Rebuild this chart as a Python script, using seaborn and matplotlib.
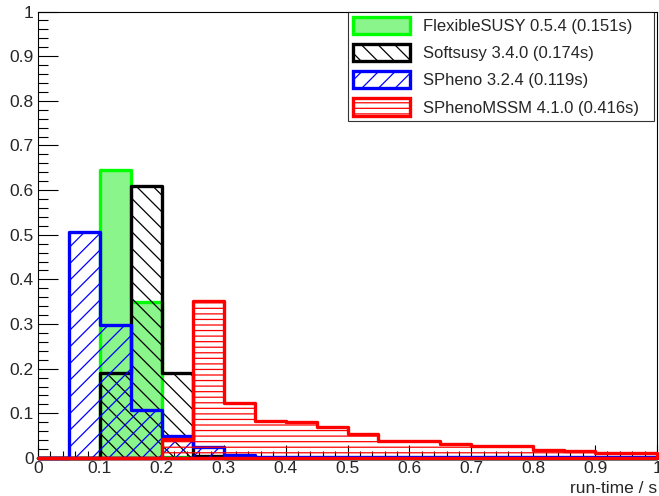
import numpy as np
import matplotlib
matplotlib.use("Agg")
import matplotlib.pyplot as plt
import seaborn as sns
from matplotlib.patches import Patch
from matplotlib.ticker import MultipleLocator, FuncFormatter

sns.set_style("white")
plt.rcParams['font.family'] = ['Liberation Sans', 'DejaVu Sans']
plt.rcParams['hatch.linewidth'] = 0.9

# bin edges (run-time / s)
edges = [round(0.05 * i, 2) for i in range(21)]
centers = [round(0.05 * i + 0.025, 3) for i in range(20)]

labels = ["FlexibleSUSY 0.5.4 (0.151s)", "Softsusy 3.4.0 (0.174s)",
          "SPheno 3.2.4 (0.119s)", "SPhenoMSSM 4.1.0 (0.416s)"]

flexiblesusy = [0, 0, 0.645, 0.350, 0.003, 0.002, 0.001, 0.001, 0, 0,
                0, 0, 0, 0, 0, 0, 0, 0, 0, 0]
softsusy = [0, 0, 0.190, 0.610, 0.190, 0.004, 0.001, 0.001, 0, 0,
            0, 0, 0, 0, 0, 0, 0, 0, 0, 0]
spheno = [0, 0.506, 0.297, 0.108, 0.050, 0.025, 0.006, 0.002, 0.002, 0.002,
          0.002, 0.002, 0.002, 0.002, 0.002, 0.002, 0.002, 0.002, 0.002, 0.002]
sphenomssm = [0, 0, 0, 0, 0.043, 0.351, 0.124, 0.082, 0.080, 0.070,
              0.054, 0.039, 0.038, 0.032, 0.027, 0.027, 0.017, 0.015, 0.012, 0.012]

series = [flexiblesusy, softsusy, spheno, sphenomssm]
line_colors = ["#00ff00", "#000000", "#0000ff", "#ff0000"]
face_colors = ["#8af58a", "none", "none", "none"]
hatches = [None, "\\\\", "//", "---"]

fig = plt.figure(figsize=(6.59, 4.96), dpi=100)
ax = fig.add_axes([38 / 659, 38 / 496, 619 / 659, 446.5 / 496])

handles = []
for vals, lc, fc, h, lab in zip(series, line_colors, face_colors, hatches, labels):
    sns.histplot(x=centers, weights=vals, bins=edges, element="step", fill=True,
                 color=lc, ax=ax, linewidth=2.4)
    coll = ax.collections[-1]
    coll.set_alpha(None)
    coll.set_facecolor(fc)
    coll.set_edgecolor(lc)
    coll.set_linewidth(2.4)
    if h:
        coll.set_hatch(h)
    coll.set_clip_on(False)
    coll.set_zorder(3)
    handles.append(Patch(facecolor=fc if fc != "none" else "white", edgecolor=lc,
                         hatch=h, linewidth=2.4, label=lab))

ax.set_xlim(0, 1)
ax.set_ylim(0, 1)
ax.set_ylabel("")
ax.set_xlabel("run-time / s", loc="right", fontsize=12.5, labelpad=4)

fmt = FuncFormatter(lambda v, p: ("%g" % round(v, 2)))
ax.xaxis.set_major_locator(MultipleLocator(0.1))
ax.xaxis.set_minor_locator(MultipleLocator(0.02))
ax.yaxis.set_major_locator(MultipleLocator(0.1))
ax.yaxis.set_minor_locator(MultipleLocator(0.02))
ax.xaxis.set_major_formatter(fmt)
ax.yaxis.set_major_formatter(fmt)
ax.tick_params(axis="both", which="both", direction="in", labelsize=12.5,
               color="black", width=0.8)
ax.tick_params(axis="y", which="major", length=14.4, left=True, right=False, pad=3)
ax.tick_params(axis="y", which="minor", length=7.2, left=True, right=False)
ax.tick_params(axis="x", which="major", length=9.4, bottom=True, top=False, pad=2)
ax.tick_params(axis="x", which="minor", length=4.7, bottom=True, top=False)
for s in ax.spines.values():
    s.set_visible(True)
    s.set_color("black")
    s.set_linewidth(0.8)

leg = fig.legend(handles=handles, loc="upper left",
                 bbox_to_anchor=(348 / 659, 1 - 122 / 496, 306 / 659, 110 / 496),
                 mode="expand", fontsize=12, frameon=True, fancybox=False,
                 edgecolor="black", handlelength=3.4, handleheight=1.2,
                 borderaxespad=0, borderpad=0.3, labelspacing=0.6,
                 handletextpad=0.8)
leg.get_frame().set_linewidth(0.8)
leg.set_zorder(5)

fig.savefig("out.png", dpi=100, facecolor="white")
